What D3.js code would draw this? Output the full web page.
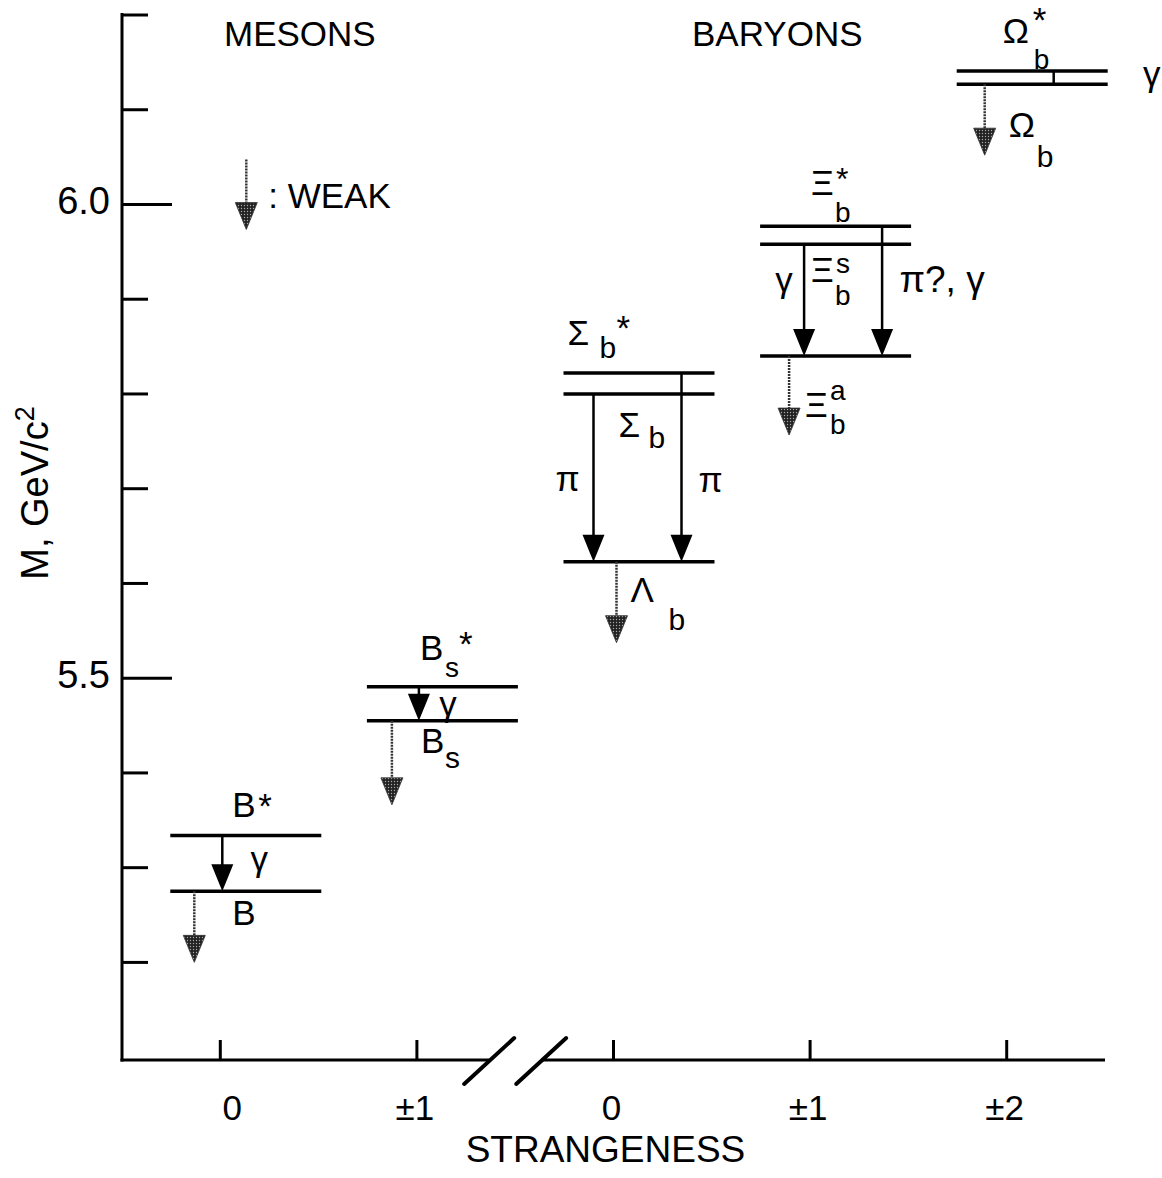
<!DOCTYPE html>
<html>
<head>
<meta charset="utf-8">
<script src="https://cdnjs.cloudflare.com/ajax/libs/d3/7.8.5/d3.min.js"></script>
<style>
    body { margin: 0; background: #fff; }
    svg text { font-family: "Liberation Sans", Arial, sans-serif; fill: #000; }
</style>
</head>
<body>
<svg width="1162" height="1178"></svg>
<script>
// strangeness columns: mesons 0, ±1 | baryons 0, ±1, ±2
const strangeness = ['0', '±1', '0', '±1', '±2']
const groups = ['MESONS', 'BARYONS']

// levels (M in GeV/c^2)
const states = ['B*', 'B', 'Bs*', 'Bs', 'Σb*', 'Σb', 'Λb', 'Ξb*', 'Ξbs', 'Ξba', 'Ωb*', 'Ωb']
const stateColumn = [0, 0, 1, 1, 2, 2, 2, 3, 3, 3, 4, 4]
const stateMass = [5.334, 5.275, 5.491, 5.455, 5.822, 5.800, 5.623, 5.977, 5.958, 5.840, 6.141, 6.127]

// strong / electromagnetic transitions
const decayFrom = ['B*', 'Bs*', 'Σb', 'Σb*', 'Ξbs', 'Ξb*', 'Ωb*']
const decayTo = ['B', 'Bs', 'Λb', 'Λb', 'Ξba', 'Ξba', 'Ωb']
const decayLabel = ['γ', 'γ', 'π', 'π', 'γ', 'π?, γ', 'γ']

// states that decay weakly
const weakStates = ['B', 'Bs', 'Λb', 'Ξba', 'Ωb']

const massTicks = [5.2, 5.3, 5.4, 5.5, 5.6, 5.7, 5.8, 5.9, 6.0, 6.1, 6.2]
const massLabels = [5.5, 6.0]

// ---- layout (pixel offsets, not data) ----
const fm = 35,   // main glyph
    fs = 30,     // single sub/superscript
    fk = 28,     // stacked scripts
    line_w = 3.5,
    head_w = 22,
    head_h = 27

const groupX = [224, 692]

// label pieces per state: [text, dx, dy, size] relative to the level's left anchor
const stateText = {
    'B*': [['B', 12, -18, fm], ['*', 38, -17, fm]],
    'B': [['B', 12, 34, fm]],
    'Bs*': [['B', 3, -27, fm], ['s', 28, -10, fk], ['*', 42, -31, fm]],
    'Bs': [['B', 4, 32, fm], ['s', 28, 47, fs]],
    'Σb*': [['Σ', -46, -28, fm], ['b', -14, -15, fs], ['*', 3, -33, fm]],
    'Σb': [['Σ', 5, 43, fm], ['b', 35, 54, fs]],
    'Λb': [['Λ', 17, 40, fm], ['b', 55, 68, fs]],
    'Ξb*': [['Ξ', 1, -31, fm], ['*', 26, -36, 32], ['b', 25, -4, fk]],
    'Ξbs': [['Ξ', 1, 38, fm], ['s', 26, 29, fk], ['b', 25, 61, fk]],
    'Ξba': [['Ξ', -5, 61, fm], ['a', 20, 44, fk], ['b', 20, 78, fk]],
    'Ωb*': [['Ω', -4, -28, fm], ['*', 26, -39, fm], ['b', 27, -2, fk]],
    'Ωb': [['Ω', 2, 53, fm], ['b', 30, 83, fs]]
}
// arrow x offset from the column tick, and label centre offset from the upper level
const decayArrowDx = [2, 2, -20, 68, -6, 72, 47]
const decayTextPos = [[39, 23], [31, 17], [-46, 85], [97, 106], [-26, 35], [132, 53], [145, 3]]
const weakArrowDx = [-26, -25, 3, -21, -22]
const weakArrowLen = [71, 84, 81, 79, 71]

const svg = d3.select('svg')

const x = d3.scalePoint()
    .domain(d3.range(strangeness.length))
    .range([122, 1105])
    .padding(0.5)
const y = d3.scaleLinear()
    .domain([5.097, 6.2])
    .range([1060, 15])

const mass = (name) => stateMass[states.indexOf(name)]
const col = (name) => stateColumn[states.indexOf(name)]

// stipple for weak decays
const defs = svg.append('defs')
const pat = defs.append('pattern')
    .attr('id', 'stipple')
    .attr('width', 3).attr('height', 3)
    .attr('patternUnits', 'userSpaceOnUse')
pat.append('rect').attr('width', 3).attr('height', 3).attr('fill', '#222')
pat.append('circle').attr('cx', 1.5).attr('cy', 1.5).attr('r', 0.7).attr('fill', '#aaa')

function head(xt, yt) {
    return 'M' + xt + ',' + yt +
        'L' + (xt - head_w / 2) + ',' + (yt - head_h) +
        'L' + (xt + head_w / 2) + ',' + (yt - head_h) + 'Z'
}

// ---- axes ----
const x0 = x.range()[0],
    x1 = x.range()[1],
    yb = y.range()[0]

svg.append('line')
    .attr('x1', x0).attr('x2', x0)
    .attr('y1', y(6.2) - 2).attr('y2', yb + 1.5)
    .style('stroke', '#000').style('stroke-width', 3)

svg.selectAll('.ytick')
    .data(massTicks)
    .enter().append('line')
    .attr('x1', x0)
    .attr('x2', (d) => massLabels.includes(d) ? x0 + 50 : x0 + 26)
    .attr('y1', (d) => y(d))
    .attr('y2', (d) => y(d))
    .style('stroke', '#000').style('stroke-width', 3)

svg.selectAll('.ylabel')
    .data(massLabels)
    .enter().append('text')
    .attr('x', x0 - 12)
    .attr('y', (d) => y(d) + 10)
    .attr('text-anchor', 'end')
    .style('font-size', '38px')
    .text((d) => d3.format('.1f')(d))

svg.append('text')
    .attr('transform', 'translate(48,493)rotate(-90)')
    .attr('text-anchor', 'middle')
    .style('font-size', '38px')
    .text('M, GeV/c')
    .append('tspan')
    .attr('dy', -14)
    .style('font-size', '27px')
    .text('2')

// x axis, broken between mesons and baryons
const xm = (x(1) + x(2)) / 2
svg.append('line')
    .attr('x1', x0 - 1.5).attr('x2', xm - 26)
    .attr('y1', yb).attr('y2', yb)
    .style('stroke', '#000').style('stroke-width', 3)
svg.append('line')
    .attr('x1', xm + 26).attr('x2', x1)
    .attr('y1', yb).attr('y2', yb)
    .style('stroke', '#000').style('stroke-width', 3)
svg.selectAll('.brk')
    .data([xm - 26, xm + 26])
    .enter().append('line')
    .attr('x1', (d) => d - 25).attr('y1', yb + 24)
    .attr('x2', (d) => d + 25).attr('y2', yb - 22)
    .style('stroke', '#000').style('stroke-width', 4)
    .style('stroke-linecap', 'round')

svg.selectAll('.xtick')
    .data(strangeness)
    .enter().append('line')
    .attr('x1', (d, i) => x(i)).attr('x2', (d, i) => x(i))
    .attr('y1', yb).attr('y2', yb - 20)
    .style('stroke', '#000').style('stroke-width', 3)

svg.selectAll('.xlabel')
    .data(strangeness)
    .enter().append('text')
    .attr('x', (d, i) => x(i) + (i === 0 ? 12 : -2))
    .attr('y', yb + 60)
    .attr('text-anchor', 'middle')
    .style('font-size', '35px')
    .text((d) => d)

svg.append('text')
    .attr('x', (x(1) + x(3)) / 2 - 8)
    .attr('y', yb + 102)
    .attr('text-anchor', 'middle')
    .style('font-size', '37px')
    .text('STRANGENESS')

svg.selectAll('.group')
    .data(groups)
    .enter().append('text')
    .attr('x', (d, i) => groupX[i])
    .attr('y', 46)
    .style('font-size', '35px')
    .text((d) => d)

// ---- levels ----
svg.selectAll('.level')
    .data(states)
    .enter().append('line')
    .attr('x1', (d) => x(col(d)) - 50)
    .attr('x2', (d) => x(col(d)) + 101)
    .attr('y1', (d) => y(mass(d)))
    .attr('y2', (d) => y(mass(d)))
    .style('stroke', '#000').style('stroke-width', line_w)

// one text element per state, pieces as positioned tspans
states.forEach(function (s) {
    const ax = x(col(s)),
        ay = y(mass(s))
    const t = svg.append('text')
    stateText[s].forEach(function (p) {
        t.append('tspan')
            .attr('x', ax + p[1])
            .attr('y', ay + p[2])
            .style('font-size', p[3] + 'px')
            .text(p[0])
    })
})

// ---- strong / em transitions ----
decayFrom.forEach(function (f, i) {
    const xa = x(col(f)) + decayArrowDx[i],
        ya = y(mass(f)),
        yt = y(mass(decayTo[i]))
    const hasHead = (yt - ya) > head_h + 4
    svg.append('line')
        .attr('x1', xa).attr('x2', xa)
        .attr('y1', ya).attr('y2', hasHead ? yt - head_h + 2 : yt)
        .style('stroke', '#000').style('stroke-width', 2.5)
    if (hasHead) {
        svg.append('path').attr('d', head(xa, yt)).style('fill', '#000')
    }
    svg.append('text')
        .attr('x', x(col(f)) + decayTextPos[i][0])
        .attr('y', ya + decayTextPos[i][1])
        .attr('text-anchor', 'middle')
        .attr('dominant-baseline', 'central')
        .style('font-size', decayLabel[i].length > 1 ? '37px' : '35px')
        .text(decayLabel[i])
})

// ---- weak decays ----
function weakArrow(xa, ya, len) {
    svg.append('line')
        .attr('x1', xa).attr('x2', xa)
        .attr('y1', ya).attr('y2', ya + len - head_h + 2)
        .style('stroke', '#333').style('stroke-width', 2.5)
        .style('stroke-dasharray', '2,1')
    svg.append('path')
        .attr('d', head(xa, ya + len))
        .style('fill', 'url(#stipple)')
        .style('stroke', '#333').style('stroke-width', 0.8)
}

weakStates.forEach(function (s, i) {
    weakArrow(x(col(s)) + weakArrowDx[i], y(mass(s)), weakArrowLen[i])
})

// legend
weakArrow(x(0) + 26, y(6.0) - 45, 70)
svg.append('text')
    .attr('x', x(0) + 48)
    .attr('y', y(6.0) + 4)
    .style('font-size', '35px')
    .text(': WEAK')
</script>
</body>
</html>
